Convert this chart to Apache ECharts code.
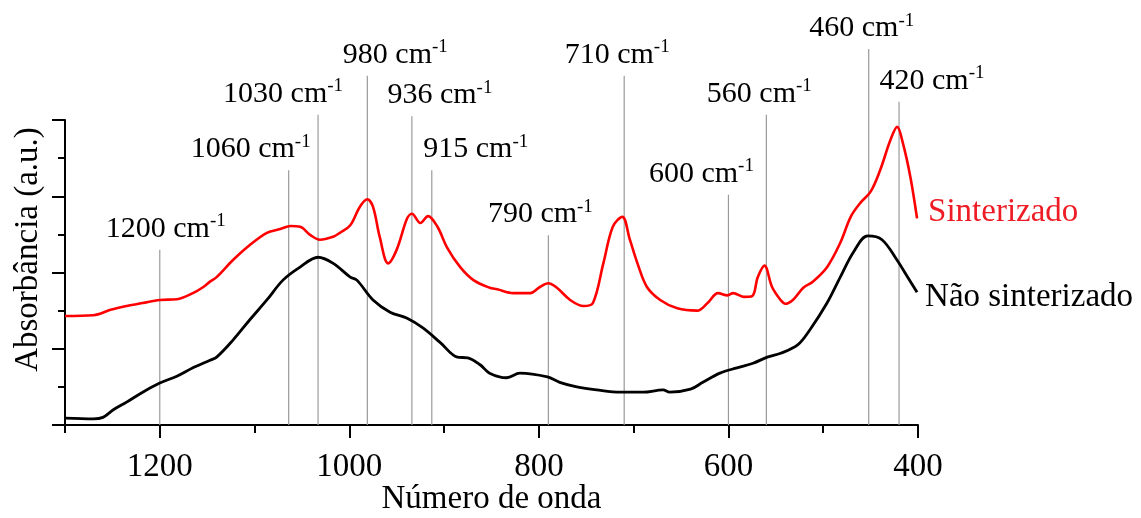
<!DOCTYPE html>
<html>
<head>
<meta charset="utf-8">
<script src="https://cdn.jsdelivr.net/npm/echarts@6/dist/echarts.min.js"></script>
<style>html,body{margin:0;padding:0;background:#fff}#c{width:1141px;height:518px}</style>
</head>
<body>
<div id="c"></div>
<script>
// ---- data ----
const sinterizadoX = [1300,1270,1252,1235,1218,1200,1182,1165,1154,1147,1140,1123,1105,1087,1073,1062,1052,1041,1031,1017,1010,999,989,981,975,968,959,950,939,934,925,917,907,897,883,869,852,844,827,809,799,790,781,767,753,743,732,722,712,704,696,686,672,654,633,622,611,601,595,584,575,569,562,554,545,540,532,521,511,496,482,471,461,450,440,429,422,416,408,401];
const sinterizadoY = [1.43,1.44,1.51,1.56,1.60,1.64,1.65,1.73,1.81,1.88,1.94,2.16,2.36,2.52,2.57,2.61,2.60,2.49,2.43,2.47,2.52,2.62,2.86,2.96,2.86,2.47,2.12,2.30,2.71,2.77,2.65,2.74,2.60,2.33,2.07,1.90,1.80,1.78,1.73,1.73,1.81,1.86,1.80,1.64,1.56,1.60,2.12,2.60,2.73,2.43,2.12,1.81,1.64,1.53,1.50,1.60,1.73,1.70,1.73,1.68,1.69,1.94,2.09,1.81,1.64,1.59,1.64,1.80,1.88,2.07,2.39,2.73,2.91,3.06,3.34,3.74,3.91,3.70,3.25,2.71];
const naoSinterizadoX = [1300,1270,1260,1249,1235,1218,1200,1182,1165,1147,1140,1123,1105,1087,1070,1052,1033,1017,999,992,975,957,939,922,904,886,875,862,852,834,820,791,778,760,739,714,690,669,662,640,627,609,591,574,559,545,527,514,496,482,468,453,438,422,411,401];
const naoSinterizadoY = [0.09,0.08,0.10,0.20,0.30,0.43,0.55,0.64,0.75,0.85,0.89,1.11,1.38,1.64,1.90,2.07,2.20,2.12,1.94,1.90,1.64,1.48,1.40,1.27,1.08,0.89,0.88,0.79,0.68,0.62,0.68,0.63,0.56,0.50,0.46,0.43,0.43,0.46,0.43,0.47,0.56,0.68,0.75,0.81,0.89,0.94,1.05,1.25,1.60,1.94,2.27,2.48,2.43,2.16,1.94,1.74];
const peakLabels = ['1200','1060','1030','980','936','915','790','710','600','560','460','420'];
const peakPositions = [1200,1064,1033,981,934,913,790,710,600,560,452,420];
const peakTops = [2.30,3.34,4.07,4.58,4.05,3.34,2.49,4.58,3.02,4.07,4.93,4.24];
const xMajorTicks = [400,600,800,1000,1200];
const xMinorTicks = [500,700,900,1100,1300];
// ---- layout (pixels) ----
const labelDx = [6,-38,-35,28,28,44,-8,-7,-27,-7,-7,33];
const labelDy = 21;

const FONT = '"Liberation Serif","Times New Roman",serif';
const zip = (xs, ys) => xs.map((x, i) => [x, ys[i]]);

const chart = echarts.init(document.getElementById('c'), null, {renderer: 'canvas'});
const G = {left: 65, right: 223, bottom: 93, containLabel: false, outerBoundsMode: 'none'};
const option = {
  animation: false,
  grid: [
    Object.assign({top: 120}, G),
    Object.assign({top: 425 - 76.25 * 5.5}, G)
  ],
  xAxis: [
    {
      type: 'value', gridIndex: 0, inverse: true, min: 400, max: 1300, interval: 200,
      position: 'bottom',
      name: 'Número de onda', nameLocation: 'middle', nameGap: 58, nameMoveOverlap: false,
      nameTextStyle: {fontFamily: FONT, fontSize: 33, color: '#000'},
      axisLine: {show: true, onZero: false, lineStyle: {color: '#000', width: 2}},
      axisTick: {show: true, length: 13, lineStyle: {color: '#000', width: 2}, customValues: xMajorTicks},
      axisLabel: {show: true, margin: 26, fontFamily: FONT, fontSize: 33, color: '#000',
                  customValues: xMajorTicks, formatter: v => String(v)},
      splitLine: {show: false}
    },
    {
      type: 'value', gridIndex: 0, inverse: true, min: 400, max: 1300, interval: 100,
      position: 'bottom',
      axisLine: {show: false},
      axisTick: {show: true, length: 8, lineStyle: {color: '#000', width: 2}, customValues: xMinorTicks},
      axisLabel: {show: false},
      splitLine: {show: false}
    },
    {
      type: 'value', gridIndex: 1, inverse: true, min: 400, max: 1300, show: false
    }
  ],
  yAxis: [
    {
      type: 'value', gridIndex: 0, min: 0, max: 4, interval: 1,
      name: 'Absorbância (a.u.)', nameLocation: 'middle', nameGap: 20, nameRotate: 90, nameMoveOverlap: false,
      nameTextStyle: {fontFamily: FONT, fontSize: 33, color: '#000', padding: [0, 0, 0, 46]},
      axisLine: {show: true, onZero: false, lineStyle: {color: '#000', width: 2}},
      axisTick: {show: true, length: 13, lineStyle: {color: '#000', width: 2}},
      minorTick: {show: true, splitNumber: 2, length: 7, lineStyle: {color: '#000', width: 2}},
      axisLabel: {show: false},
      splitLine: {show: false}
    },
    {
      type: 'value', gridIndex: 1, min: 0, max: 5.5, show: false
    }
  ],
  series: [
    {
      type: 'custom', xAxisIndex: 2, yAxisIndex: 1, z: 1, silent: true,
      data: peakPositions.map((p, i) => [p, peakTops[i]]),
      renderItem: function (params, api) {
        const i = params.dataIndex;
        const x = api.value(0), top = api.value(1);
        const p0 = api.coord([x, 0]);
        const p1 = api.coord([x, top]);
        return {
          type: 'group',
          children: [
            {type: 'line', shape: {x1: p0[0], y1: p0[1], x2: p1[0], y2: p1[1]},
             style: {stroke: '#9a9a9a', lineWidth: 1.2}},
            {type: 'text', x: p1[0] + labelDx[i], y: p1[1] - labelDy,
             style: {
               text: '{n|' + peakLabels[i] + ' cm}{s|-1}',
               align: 'center', verticalAlign: 'middle',
               rich: {
                 n: {fontFamily: FONT, fontSize: 30, fill: '#000', lineHeight: 34},
                 s: {fontFamily: FONT, fontSize: 19, fill: '#000', lineHeight: 19, verticalAlign: 'top'}
               }
             }}
          ]
        };
      }
    },
    {
      name: 'Sinterizado', type: 'line', xAxisIndex: 0, yAxisIndex: 0, z: 3,
      data: zip(sinterizadoX, sinterizadoY),
      showSymbol: false, smooth: 0.35,
      lineStyle: {color: '#ff0000', width: 2.6},
      itemStyle: {color: '#ff0000'},
      endLabel: {show: true, formatter: '{a}', distance: -11, align: 'left', offset: [0, -6],
                 fontFamily: FONT, fontSize: 33, color: '#ee1c25'}
    },
    {
      name: 'Não sinterizado', type: 'line', xAxisIndex: 0, yAxisIndex: 0, z: 3,
      data: zip(naoSinterizadoX, naoSinterizadoY),
      showSymbol: false, smooth: 0.35,
      lineStyle: {color: '#000', width: 2.8},
      itemStyle: {color: '#000'},
      endLabel: {show: true, formatter: '{a}', distance: -8, align: 'left', offset: [0, 5],
                 fontFamily: FONT, fontSize: 33, color: '#000'}
    }
  ]
};
chart.setOption(option);
</script>
</body>
</html>
